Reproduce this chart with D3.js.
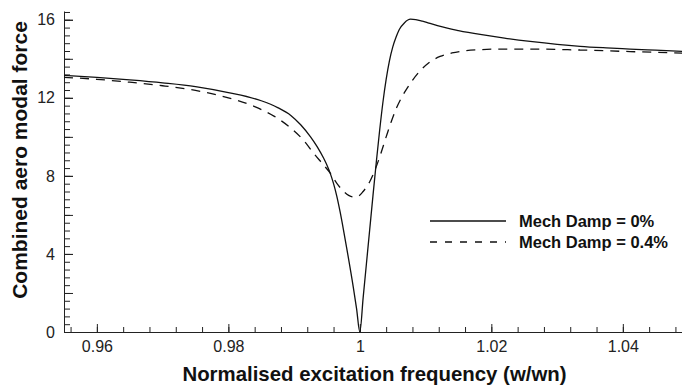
<!DOCTYPE html>
<html>
<head>
<meta charset="utf-8">
<script src="https://cdn.jsdelivr.net/npm/d3@7"></script>
<style>
  body { margin: 0; background: #fff; }
  svg { display: block; font-family: "Liberation Sans", Arial, sans-serif; }
  .axis path, .axis line { stroke: #222; stroke-width: 1; }
  .axis text { fill: #222; font-size: 16px; }
</style>
</head>
<body>
<script>
// values
let freqSolid = [0.955, 0.960, 0.965, 0.970, 0.975, 0.980, 0.985, 0.9875, 0.9895, 0.991,
  0.9925, 0.9935, 0.9945, 0.9950, 0.9955, 0.9960, 0.9965, 0.9970, 0.9975, 0.9980,
  0.9990, 0.9995, 1.0000,
  1.0005, 1.0010, 1.0015, 1.0020, 1.0025, 1.0030, 1.0035, 1.0040, 1.0045, 1.0050,
  1.0055, 1.0060, 1.0068, 1.0077, 1.0085, 1.0095, 1.0105, 1.0118, 1.0133, 1.0150,
  1.0183, 1.0220, 1.0259, 1.0300, 1.0335, 1.0375, 1.0411, 1.0450, 1.0491];
let forceSolid = [13.15, 13.05, 12.92, 12.77, 12.58, 12.27, 11.85, 11.50, 11.10, 10.62,
  10.00, 9.50, 8.90, 8.55, 8.13, 7.60, 6.95, 6.15, 5.25, 4.30,
  2.30, 1.20, 0.0,
  1.75, 3.50, 5.25, 7.00, 8.70, 10.30, 11.75, 12.95, 13.90, 14.60,
  15.10, 15.50, 15.85, 16.03, 16.01, 15.93, 15.83, 15.70, 15.57, 15.45,
  15.25, 15.06, 14.89, 14.74, 14.64, 14.56, 14.50, 14.44, 14.38];

let freqDashed = [0.955, 0.960, 0.965, 0.970, 0.975, 0.980, 0.984, 0.987, 0.9895, 0.9915,
  0.993, 0.9945, 0.9955, 0.9965, 0.9975, 0.9983, 0.999, 0.9997, 1.0005, 1.0015,
  1.0023, 1.003, 1.004, 1.0048, 1.0056, 1.0064, 1.0072, 1.008, 1.0092, 1.0105,
  1.0122, 1.0140, 1.0157, 1.0183, 1.022, 1.026, 1.0335, 1.0411, 1.0491];
let forceDashed = [13.05, 12.95, 12.80, 12.62, 12.38, 12.00, 11.55, 11.05, 10.45, 9.80,
  9.15, 8.55, 8.14, 7.62, 7.22, 7.00, 6.92, 6.95, 7.20, 7.70,
  8.30, 8.95, 10.0, 10.8, 11.5, 12.05, 12.5, 12.9, 13.4, 13.8,
  14.12, 14.30, 14.40, 14.47, 14.50, 14.50, 14.45, 14.37, 14.29];

let seriesNames = ["Mech Damp = 0%", "Mech Damp = 0.4%"];
let xTickValues = [0.96, 0.98, 1, 1.02, 1.04];
let yTickValues = [0, 4, 8, 12, 16];

// set the dimensions and margins of the graph
let margin = {top: 11, right: 0, bottom: 54, left: 64};
let width = 682 - margin.left - margin.right;
let height = 386 - margin.top - margin.bottom;

// set the ranges
let xScale = d3.scaleLinear().domain([0.955, 1.049]).range([0, width]);
let yScale = d3.scaleLinear().domain([0, 16.45]).range([height, 0]);

let svg = d3.select("body").append("svg")
    .attr("width", width + margin.left + margin.right)
    .attr("height", height + margin.top + margin.bottom)
  .append("g")
    .attr("transform", "translate(" + margin.left + "," + margin.top + ")");

// minor ticks (inward)
let xMinor = d3.range(0, 24).map(function(i) { return +(0.956 + i * 0.004).toFixed(3); });
let yMinor = d3.range(0, 42).map(function(i) { return +(i * 0.4).toFixed(1); })
  .filter(function(d) { return d <= 16.45; });
let yMid = d3.range(0, 9).map(function(i) { return i * 2; });

svg.append("g")
    .attr("class", "axis")
    .attr("transform", "translate(0," + height + ")")
    .call(d3.axisBottom(xScale).tickValues(xMinor).tickSize(-5).tickFormat(""))
    .call(function(g) { g.select(".domain").remove(); });

svg.append("g")
    .attr("class", "axis")
    .call(d3.axisLeft(yScale).tickValues(yMinor).tickSize(-6).tickFormat(""))
    .call(function(g) { g.select(".domain").remove(); });

svg.append("g")
    .attr("class", "axis")
    .call(d3.axisLeft(yScale).tickValues(yMid).tickSize(-9).tickFormat(""))
    .call(function(g) { g.select(".domain").remove(); });

// major ticks with labels
svg.append("g")
    .attr("class", "axis")
    .attr("transform", "translate(0," + height + ")")
    .call(d3.axisBottom(xScale).tickValues(xTickValues).tickSize(-8).tickSizeOuter(0)
      .tickPadding(9).tickFormat(d3.format("")));

svg.append("g")
    .attr("class", "axis")
    .call(d3.axisLeft(yScale).tickValues(yTickValues).tickSize(-9).tickSizeOuter(0)
      .tickPadding(9));

// the curves
let line = d3.line()
  .curve(d3.curveMonotoneX)
  .x(function(d) { return xScale(d[0]); })
  .y(function(d) { return yScale(d[1]); });

svg.append("path")
    .datum(d3.zip(freqSolid, forceSolid))
    .attr("d", line)
    .attr("fill", "none")
    .attr("stroke", "#111")
    .attr("stroke-width", 1.3);

svg.append("path")
    .datum(d3.zip(freqDashed, forceDashed))
    .attr("d", line)
    .attr("fill", "none")
    .attr("stroke", "#111")
    .attr("stroke-width", 1.3)
    .attr("stroke-dasharray", "9,7");

// legend
let legend = svg.append("g")
    .attr("transform", "translate(" + (430 - margin.left) + "," + (221 - margin.top) + ")");

seriesNames.forEach(function(name, i) {
  let row = legend.append("g").attr("transform", "translate(0," + (i * 21) + ")");
  row.append("line")
      .attr("x1", 0).attr("x2", 76)
      .attr("stroke", "#111")
      .attr("stroke-width", 1.3)
      .attr("stroke-dasharray", i === 1 ? "7,8" : null);
  row.append("text")
      .attr("x", 89)
      .attr("dy", "0.35em")
      .attr("font-size", "16.5px")
      .attr("font-weight", "bold")
      .attr("fill", "#111")
      .text(name);
});

// axis titles
svg.append("text")
    .attr("x", 374.5 - margin.left)
    .attr("y", 381 - margin.top)
    .attr("text-anchor", "middle")
    .attr("font-size", "20.4px")
    .attr("font-weight", "bold")
    .attr("fill", "#111")
    .text("Normalised excitation frequency (w/wn)");

svg.append("text")
    .attr("transform", "translate(" + (27 - margin.left) + "," + (160 - margin.top) + ") rotate(-90)")
    .attr("text-anchor", "middle")
    .attr("font-size", "21px")
    .attr("font-weight", "bold")
    .attr("fill", "#111")
    .text("Combined aero modal force");
</script>
</body>
</html>
